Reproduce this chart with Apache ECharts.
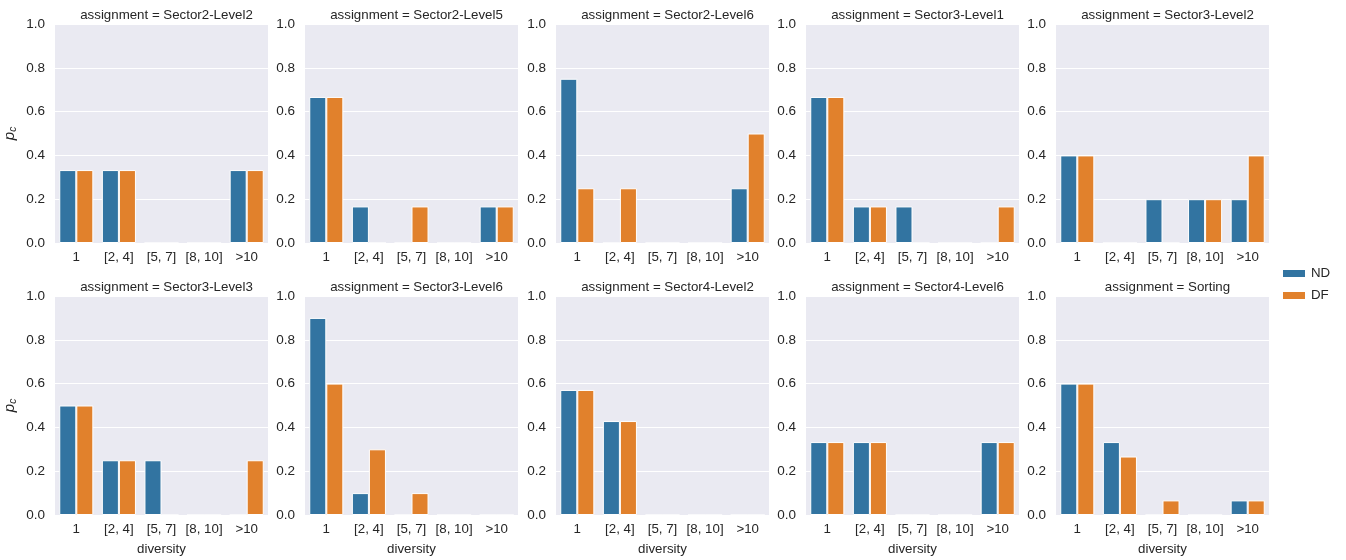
<!DOCTYPE html>
<html><head><meta charset="utf-8">
<script src="https://cdn.jsdelivr.net/npm/echarts@6/dist/echarts.min.js"></script>
<style>html,body{margin:0;padding:0;background:#fff}#c{width:1346px;height:560px}</style>
</head><body><div id="c"></div>
<script>
const categories = ['1', '[2, 4]', '[5, 7]', '[8, 10]', '>10'];
const yTicks = [0, 0.2, 0.4, 0.6, 0.8, 1.0];
const panels = ['Sector2-Level2','Sector2-Level5','Sector2-Level6','Sector3-Level1','Sector3-Level2',
                'Sector3-Level3','Sector3-Level6','Sector4-Level2','Sector4-Level6','Sorting'];
const ndValues = [
  [0.333,0.333,0,0,0.333],
  [0.667,0.167,0,0,0.167],
  [0.75,0,0,0,0.25],
  [0.667,0.167,0.167,0,0],
  [0.4,0,0.2,0.2,0.2],
  [0.5,0.25,0.25,0,0],
  [0.9,0.1,0,0,0],
  [0.571,0.429,0,0,0],
  [0.333,0.333,0,0,0.333],
  [0.6,0.333,0,0,0.0667]
];
const dfValues = [
  [0.333,0.333,0,0,0.333],
  [0.667,0,0.167,0,0.167],
  [0.25,0.25,0,0,0.5],
  [0.667,0.167,0,0,0.167],
  [0.4,0,0,0.2,0.4],
  [0.5,0.25,0,0,0.25],
  [0.6,0.3,0.1,0,0],
  [0.571,0.429,0,0,0],
  [0.333,0.333,0,0,0.333],
  [0.6,0.267,0.0667,0,0.0667]
];
const seriesNames = ['ND','DF'];
const colors = ['#3274A1','#E1812C'];

const FONT = '"Liberation Sans", Arial, sans-serif';
const TXT = '#262626';
const lefts = [55, 305, 556, 806, 1056];
const tops = [24, 296];
const W = 213, H = 219;

const grids = [], xAxes = [], yAxes = [], series = [], titles = [];
panels.forEach((name, i) => {
  const r = Math.floor(i / 5), c = i % 5;
  grids.push({left: lefts[c], top: tops[r], width: W, height: H, show: true,
    backgroundColor: '#EAEAF2', borderWidth: 0, containLabel: false});
  titles.push({text: 'assignment = ' + name, left: lefts[c] + W / 2, top: tops[r] - 20,
    textAlign: 'center',
    textStyle: {fontFamily: FONT, fontSize: 13.3, fontWeight: 'normal', color: TXT}});
  xAxes.push({type: 'category', gridIndex: i, data: categories,
    axisLine: {show: false}, axisTick: {show: false},
    axisLabel: {fontFamily: FONT, fontSize: 13.3, color: TXT, margin: 8, interval: 0},
    name: r === 1 ? 'diversity' : '', nameLocation: 'middle', nameGap: 28,
    nameTextStyle: {fontFamily: FONT, fontSize: 13.3, color: TXT}});
  yAxes.push({type: 'value', gridIndex: i, min: 0, max: 1, interval: 0.2,
    axisLine: {show: false}, axisTick: {show: false},
    splitLine: {show: true, lineStyle: {color: '#ffffff', width: 1}},
    axisLabel: {fontFamily: FONT, fontSize: 13.5, color: TXT, margin: 10,
      formatter: v => v.toFixed(1)},
    name: c === 0 ? '{p|p}{s|c}' : '', nameLocation: 'middle', nameGap: 37, nameRotate: 90,
    nameTextStyle: {rich: {
      p: {fontFamily: FONT, fontSize: 15, fontStyle: 'italic', color: TXT},
      s: {fontFamily: FONT, fontSize: 10, fontStyle: 'italic', color: TXT, verticalAlign: 'bottom', padding: [7,0,0,0]}
    }}});
  [ndValues[i], dfValues[i]].forEach((vals, k) => {
    series.push({type: 'bar', name: seriesNames[k], xAxisIndex: i, yAxisIndex: i,
      data: vals, barGap: '0%', barCategoryGap: '20%',
      itemStyle: {color: colors[k], borderColor: '#ffffff', borderWidth: 1},
      silent: true, animation: false});
  });
});

const chart = echarts.init(document.getElementById('c'), null, {renderer: 'canvas'});
chart.setOption({
  animation: false,
  title: titles,
  grid: grids,
  xAxis: xAxes,
  yAxis: yAxes,
  series: series,
  legend: {data: seriesNames, orient: 'vertical', left: 1276, top: 262, itemWidth: 24, itemHeight: 9,
    itemGap: 9, icon: 'rect',
    textStyle: {fontFamily: FONT, fontSize: 13.3, color: TXT}}
});
</script></body></html>
